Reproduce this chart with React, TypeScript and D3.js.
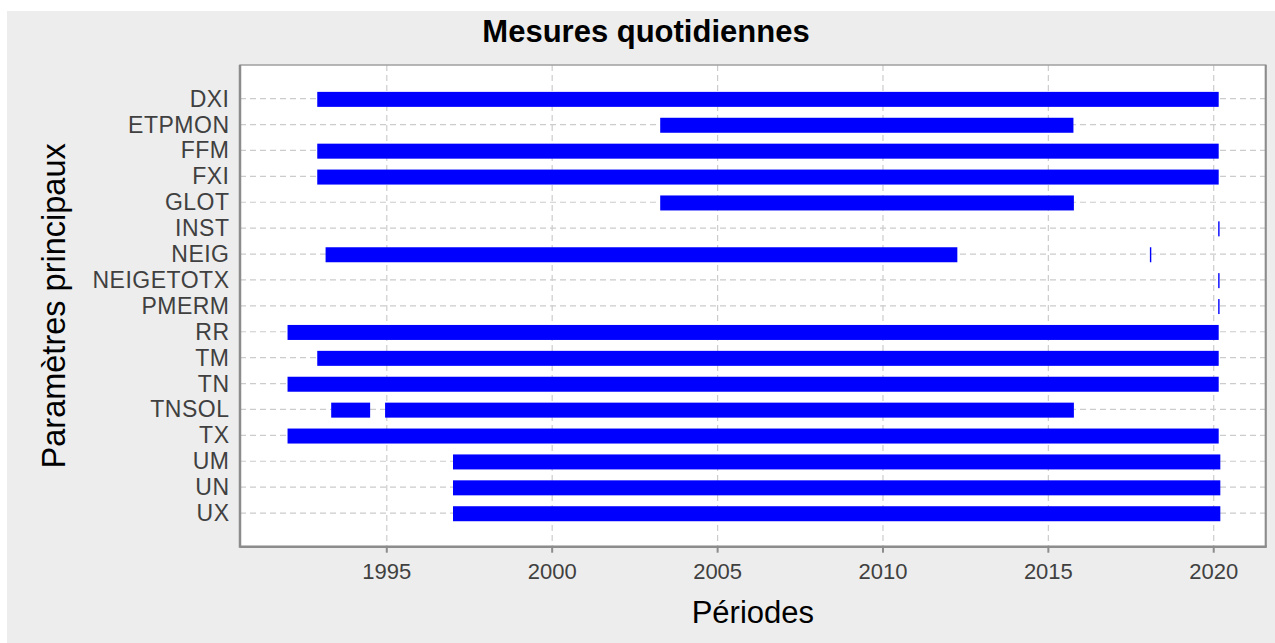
import * as d3 from "d3";

// categories (top to bottom)
const params = ["DXI", "ETPMON", "FFM", "FXI", "GLOT", "INST", "NEIG", "NEIGETOTX", "PMERM", "RR", "TM", "TN", "TNSOL", "TX", "UM", "UN", "UX"];

// measurement periods: [parameter, start, end]
const periods: [string, string, string][] = [
  ["DXI", "1992-11-24", "2020-02-25"],
  ["ETPMON", "2003-04-08", "2015-10-05"],
  ["FFM", "1992-11-24", "2020-02-25"],
  ["FXI", "1992-11-24", "2020-02-25"],
  ["GLOT", "2003-04-08", "2015-10-10"],
  ["INST", "2020-02-27", "2020-02-27"],
  ["NEIG", "1993-02-24", "2012-04-01"],
  ["NEIG", "2018-02-03", "2018-02-03"],
  ["NEIGETOTX", "2020-02-27", "2020-02-27"],
  ["PMERM", "2020-02-27", "2020-02-27"],
  ["RR", "1992-01-01", "2020-02-25"],
  ["TM", "1992-11-24", "2020-02-25"],
  ["TN", "1992-01-01", "2020-02-25"],
  ["TNSOL", "1993-04-27", "1994-07-01"],
  ["TNSOL", "1994-12-13", "2015-10-10"],
  ["TX", "1992-01-01", "2020-02-25"],
  ["UM", "1997-01-01", "2020-03-14"],
  ["UN", "1997-01-01", "2020-03-14"],
  ["UX", "1997-01-01", "2020-03-14"],
];

const xDomain = ["1990-07-25", "2021-07-28"];
const tickYears = ["1995", "2000", "2005", "2010", "2015", "2020"];

const W = 1275;
const H = 643;
const font = "'Liberation Sans', Arial, Helvetica, sans-serif";

export default function App() {
  const left = 240, right = 1265.7, top = 65, bottom = 546.7;
  const parse = d3.timeParse("%Y-%m-%d");

  const x = d3.scaleTime()
    .domain(xDomain.map(d => parse(d) as Date))
    .range([left, right]);

  const y = d3.scalePoint<string>()
    .domain(params)
    .range([top, bottom])
    .padding(1.3);

  const ticks = tickYears.map(t => d3.timeParse("%Y")(t) as Date);
  const barH = 15;

  return (
    <svg width={W} height={H} style={{ position: "absolute", left: 0, top: 0, fontFamily: font }}>
      <rect x={7} y={11} width={W - 7} height={H - 11} fill="#ededed" />
      <rect x={left} y={top} width={right - left} height={bottom - top} fill="#ffffff" />

      {/* grid */}
      {ticks.map((t, i) => (
        <line key={"vg" + i} x1={x(t)} x2={x(t)} y1={top} y2={bottom}
          stroke="#cccccc" strokeWidth={1.2} strokeDasharray="6,4" />
      ))}
      {params.map(p => (
        <line key={"hg" + p} x1={left} x2={right} y1={y(p)} y2={y(p)}
          stroke="#cccccc" strokeWidth={1.2} strokeDasharray="6,4" />
      ))}

      {/* bars */}
      {periods.map(([p, s, e], i) => {
        const x0 = x(parse(s) as Date);
        const x1 = x(parse(e) as Date);
        const w = Math.max(x1 - x0, 1.4);
        return <rect key={i} x={x1 - x0 < 1.4 ? x0 - 0.7 : x0} y={(y(p) as number) - barH / 2 + 0.7}
          width={w} height={barH} fill="#0000ff" />;
      })}

      {/* frame */}
      <rect x={left} y={top} width={right - left} height={bottom - top} fill="none" stroke="#a0a0a0" strokeWidth={1.5} />
      <line x1={left} x2={left} y1={top} y2={bottom + 1} stroke="#8c8c8c" strokeWidth={2.5} />
      <line x1={left} x2={right + 1} y1={bottom} y2={bottom} stroke="#8c8c8c" strokeWidth={2.5} />
      <line x1={right} x2={right} y1={top} y2={bottom} stroke="#8c8c8c" strokeWidth={2} />

      {/* x axis */}
      {ticks.map((t, i) => (
        <g key={"xt" + i} transform={`translate(${x(t)},${bottom})`}>
          <line y1={0} y2={6} stroke="#8c8c8c" strokeWidth={2} />
          <text y={32} textAnchor="middle" fontSize={22} fill="#404040">{d3.timeFormat("%Y")(t)}</text>
        </g>
      ))}

      {/* y axis */}
      {params.map(p => (
        <text key={"yt" + p} x={229.5} y={(y(p) as number) + 8} textAnchor="end" fontSize={23} letterSpacing={0.5} fill="#404040">{p}</text>
      ))}

      <text x={646} y={42.3} textAnchor="middle" fontSize={31} fontWeight="bold" fill="#000">Mesures quotidiennes</text>
      <text x={(left + right) / 2} y={622.7} textAnchor="middle" fontSize={31} fill="#000">Périodes</text>
      <text transform={`translate(65,${(top + bottom) / 2}) rotate(-90)`} textAnchor="middle" fontSize={32.5} fill="#000">Paramètres principaux</text>
    </svg>
  );
}
